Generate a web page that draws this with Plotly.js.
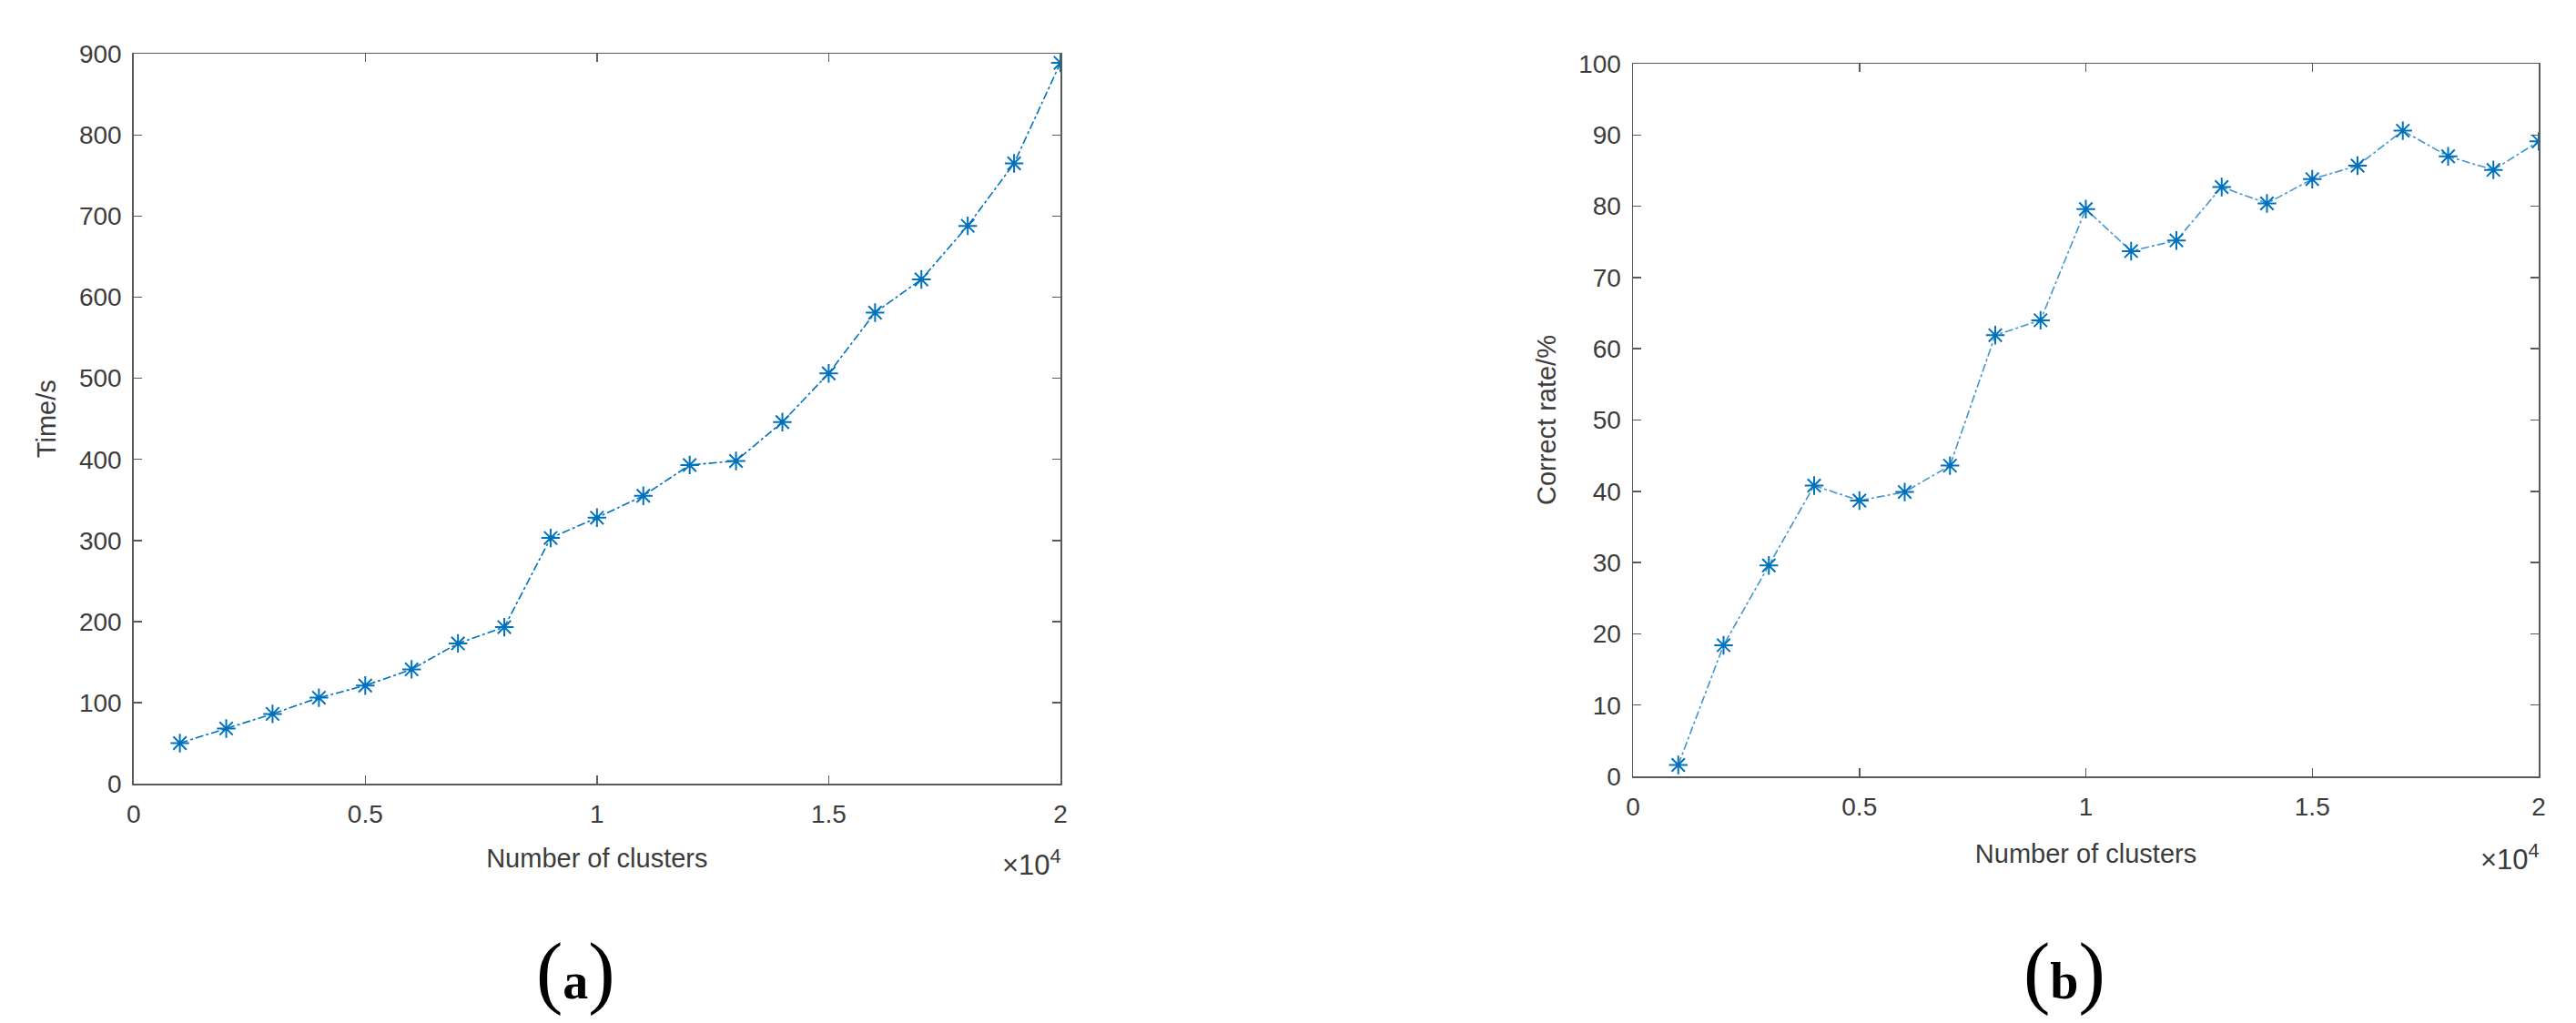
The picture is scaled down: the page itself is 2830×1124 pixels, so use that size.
<!DOCTYPE html>
<html>
<head>
<meta charset="utf-8">
<script src="https://cdn.plot.ly/plotly-3.0.1.min.js"></script>
<style>html,body{margin:0;padding:0;background:#fff;}#chart{width:2830px;height:1124px;}</style>
</head>
<body>
<div id="chart"></div>
<script>
// ---- data ----
const clusters = [1000,2000,3000,4000,5000,6000,7000,8000,9000,10000,11000,12000,13000,14000,15000,16000,17000,18000,19000,20000];
const timeSeconds = [50,68,86,106,121,141,173,193,303,328,355,393,398,446,506,581,622,688,765,889];
const correctRate = [1.6,18.4,29.6,40.8,38.7,39.9,43.6,61.9,64.0,79.6,73.7,75.2,82.7,80.4,83.8,85.7,90.6,87.0,85.1,89.1];
const xTickVals = [0,5000,10000,15000,20000];
const xTickText = ['0','0.5','1','1.5','2'];
const yTickVals1 = [0,100,200,300,400,500,600,700,800,900];
const yTickVals2 = [0,10,20,30,40,50,60,70,80,90,100];
const xTitle = 'Number of clusters';
const yTitle1 = 'Time/s';
const yTitle2 = 'Correct rate/%';
const panelLabels = ['a','b'];

const blue = '#0072BD';
const axisFont = {family:'Liberation Sans, Arial, sans-serif', size:28, color:'#3c3c3c'};
const titleFont = {family:'Liberation Sans, Arial, sans-serif', size:29, color:'#3c3c3c'};
const expFont = {family:'Liberation Sans, Arial, sans-serif', size:31, color:'#3c3c3c'};

function axisBase(){
  return {
    showgrid:false, zeroline:false, showline:true, mirror:'ticks',
    linecolor:'#5a5a5a', linewidth:1.5, ticks:'inside', ticklen:9, tickwidth:1.5,
    tickcolor:'#5a5a5a', tickfont:axisFont, automargin:false
  };
}

const traces = [
  {x:clusters, y:timeSeconds, xaxis:'x', yaxis:'y', mode:'lines+markers', type:'scatter',
   line:{color:blue, width:1.6, dash:'dashdot'},
   marker:{symbol:'asterisk-open', size:17, line:{color:blue, width:2}, color:blue}},
  {x:clusters, y:correctRate, xaxis:'x2', yaxis:'y2', mode:'lines+markers', type:'scatter',
   line:{color:'rgba(0,114,189,0.75)', width:1.6, dash:'dashdot'},
   marker:{symbol:'asterisk-open', size:17, line:{color:'rgba(0,114,189,0.8)', width:2}, color:blue}}
];

const xa1 = Object.assign(axisBase(), {domain:[146.7/2830, 1165/2830], range:[0,20000], tickvals:xTickVals, ticktext:xTickText, anchor:'y',
  title:{text:xTitle, font:titleFont, standoff:23}, ticklabelstandoff:8});
const ya1 = Object.assign(axisBase(), {domain:[1-861/1124, 1-59.3/1124], range:[0,900], tickvals:yTickVals1, anchor:'x',
  title:{text:yTitle1, font:titleFont, standoff:16}, ticklabelstandoff:6});
const xa2 = Object.assign(axisBase(), {domain:[1794/2830, 2789/2830], range:[0,20000], tickvals:xTickVals, ticktext:xTickText, anchor:'y2',
  title:{text:xTitle, font:titleFont, standoff:26}, ticklabelstandoff:8});
const ya2 = Object.assign(axisBase(), {domain:[1-853/1124, 1-70/1124], range:[0,100], tickvals:yTickVals2, anchor:'x2',
  title:{text:yTitle2, font:titleFont, standoff:16}, ticklabelstandoff:6});

function panelLabel(letter, xpx){
  return {xref:'paper', yref:'paper', x:xpx/2830, y:1-1067/1124, xanchor:'center', yanchor:'middle', showarrow:false,
    text:'<span style="font-size:88px">(</span><b>'+letter+'</b><span style="font-size:88px">)</span>',
    font:{family:'Liberation Serif, Times New Roman, serif', size:56, color:'#000'}};
}

const layout = {
  width:2830, height:1124, margin:{l:0,r:0,t:0,b:0},
  paper_bgcolor:'#fff', plot_bgcolor:'#fff', showlegend:false,
  xaxis:xa1, yaxis:ya1, xaxis2:xa2, yaxis2:ya2,
  annotations:[
    {xref:'paper', yref:'paper', x:1168/2830, y:1-948/1124, xanchor:'right', yanchor:'middle', showarrow:false,
     text:'\u00d710<sup>4</sup>', font:expFont},
    {xref:'paper', yref:'paper', x:2792/2830, y:1-942/1124, xanchor:'right', yanchor:'middle', showarrow:false,
     text:'\u00d710<sup>4</sup>', font:expFont},
    panelLabel(panelLabels[0], 632),
    panelLabel(panelLabels[1], 2268)
  ]
};

Plotly.newPlot('chart', traces, layout, {staticPlot:true, displayModeBar:false});
</script>
</body>
</html>
